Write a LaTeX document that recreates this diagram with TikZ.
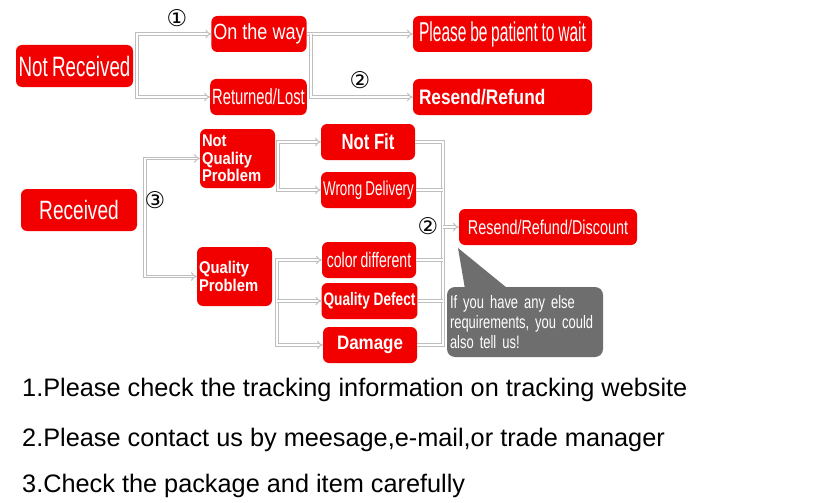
\documentclass[tikz,border=0pt]{standalone}
\usepackage{fontspec}
\setmainfont{Liberation Sans}
\newfontfamily\sqa[FakeStretch=0.57,WordSpace=0.85]{Liberation Sans}
\newfontfamily\sqb[FakeStretch=0.67,WordSpace=0.85]{Liberation Sans}
\newfontfamily\sqc[FakeStretch=0.72,WordSpace=0.85]{Liberation Sans}
\newfontfamily\sqd[FakeStretch=0.76]{Liberation Sans}
\newfontfamily\sqe[FakeStretch=0.82]{Liberation Sans}
\newfontfamily\sqf[FakeStretch=0.87]{Liberation Sans}
\newfontfamily\notefont[FakeStretch=0.72,WordSpace=0.85]{Liberation Sans}
\newfontfamily\symfont{DejaVu Sans}
\newcommand\fs[1]{\fontsize{#1}{#1}\selectfont}
\usetikzlibrary{arrows.meta,calc}
\definecolor{boxred}{HTML}{F20000}
\definecolor{linegray}{HTML}{BEBEBE}
\definecolor{notegray}{HTML}{6E6E6E}
\tikzset{
  redbox/.style={fill=boxred,rounded corners=6pt,text=white,inner sep=2pt,minimum height=36pt},
  link/.style={draw=linegray,double=white,double distance=1.8pt,line width=1pt},
  tipa/.style={-{Implies[scale=1.4]}},
  tipb/.style={{Implies[scale=1.4]}-{Implies[scale=1.4]}},
  num/.style={font=\symfont\fs{23},inner sep=0pt},
  tip/.style={font=\fs{25.3},anchor=base west,inner sep=0pt}
}

\begin{document}
\begin{tikzpicture}[x=1pt,y=-1pt]
  \useasboundingbox[fill=white] (0,0) rectangle (830,503);
  % not received branch
  \node[redbox,minimum width=117pt,minimum height=42pt,font=\sqb\fs{28}] (nr) at (74.5,66) {Not Received};
  \node[redbox,minimum width=94pt,font=\sqe\fs{22}] (way) at (259,34) {On the way};
  \node[redbox,minimum width=95pt,font=\sqb\fs{22}] (ret) at (258.5,97) {Returned/Lost};
  \node[redbox,minimum width=179pt,font=\sqa\fs{27.3}] (wait) at (502.5,34) {Please be patient to wait};
  \node[redbox,minimum width=179pt,text width=167pt,inner xsep=6pt,align=left,font=\sqe\fs{21}\bfseries] (refund) at (502.5,97) {Resend/Refund};
  \draw[link,tipb] (way.west) -- ++(-74,0) |- (ret.west);
  \draw[link,tipa] (way.east) -- (wait.west);
  \draw[link,tipa] ([xshift=4pt]way.east) |- (refund.west);
  \node[num] (n1) at (177,18) {①};
  \node[num] (n2) at (360,80) {②};
  % received branch
  \node[redbox,minimum width=116pt,minimum height=42pt,font=\sqc\fs{26.5}] (recv) at (79,210) {Received};
  \node[redbox,minimum width=75pt,minimum height=59pt,text width=71pt,inner xsep=2pt,align=left,font=\sqf\fontsize{17}{17.7}\selectfont\bfseries] (nqp) at (237.5,158.5) {Not\\Quality\\Problem};
  \node[redbox,minimum width=75pt,minimum height=59pt,text width=71pt,inner xsep=2pt,align=left,font=\sqf\fontsize{17}{17.7}\selectfont\bfseries] (qp) at (234.5,276.5) {Quality\\Problem};
  \node[redbox,minimum width=94pt,font=\sqd\fs{22}\bfseries] (notfit) at (368,142) {Not Fit};
  \node[redbox,minimum width=95pt,font=\sqb\fs{20}] (wrong) at (368.5,190) {Wrong Delivery};
  \node[redbox,minimum width=94pt,font=\sqb\fs{21}] (color) at (369,260) {color different};
  \node[redbox,minimum width=93pt,font=\sqd\fs{18}\bfseries] (defect) at (369.5,301) {Quality Defect};
  \node[redbox,minimum width=94pt,font=\sqf\fs{19.5}\bfseries] (damage) at (370,345) {Damage};
  \node[redbox,minimum width=178pt,font=\sqc\fs{20}] (discount) at (548,227) {Resend/Refund/Discount};
  \draw[link,tipb] (nqp.west) -- ++(-55,0) |- (qp.west);
  \draw[link,tipb] (notfit.west) -- ++(-43,0) |- (wrong.west);
  \draw[link,tipb] (color.west) -- ++(-45,0) |- (damage.west);
  \coordinate (qtrunk) at ([xshift=-45pt]color.west);
  \draw[link,tipa] (qtrunk |- defect.west) -- (defect.west);
  \coordinate (rtrunk) at ([xshift=28pt]notfit.east);
  \draw[link] (notfit.east) -- (rtrunk) |- (damage.east);
  \foreach \n in {wrong,color,defect}
    \draw[link] (\n.east) -- (\n.east -| rtrunk);
  \draw[link,tipa] (rtrunk |- discount.west) -- (discount.west);
  \node[num] (n3) at (155,200) {③};
  \node[num] (n4) at (428,226) {②};
  % callout
  \node[fill=notegray,rounded corners=8pt,text=white,minimum width=156pt,minimum height=70pt,text width=150pt,inner xsep=3pt,align=left,font=\notefont\fontsize{18}{20}\selectfont] (note) at (525,322) {If you have any else\\requirements, you could\\also tell us!};
  \fill[notegray] ([xshift=18pt,yshift=-1pt]note.north west) -- (458,248) -- ([xshift=60pt,yshift=-1pt]note.north west) -- cycle;
  % bottom notes
  \node[tip] (t1) at (22,396) {1.Please check the tracking information on tracking website};
  \node[tip] (t2) at (22,446) {2.Please contact us by meesage,e-mail,or trade manager};
  \node[tip] (t3) at (22,492) {3.Check the package and item carefully};
\end{tikzpicture}
\end{document}
